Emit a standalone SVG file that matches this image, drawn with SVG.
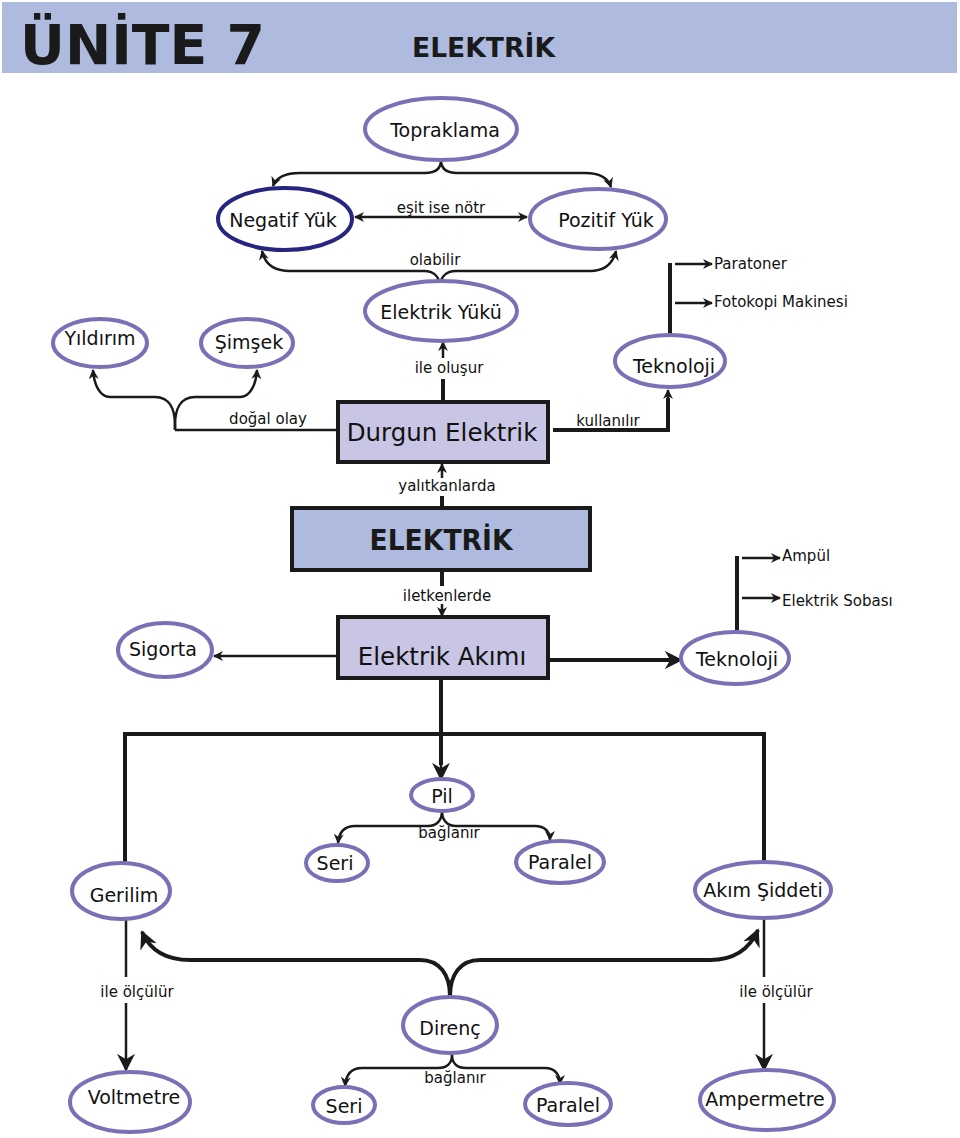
<svg xmlns="http://www.w3.org/2000/svg" width="960" height="1138" viewBox="0 0 960 1138">
<style>
.nd{fill:#fff;stroke:#7a70b5;stroke-width:4}
.nd2{fill:#fff;stroke:#262680;stroke-width:4}
.bx{fill:#c8c6e4;stroke:#1a1a1a;stroke-width:4}
.bx2{fill:#aebbdf;stroke:#1a1a1a;stroke-width:4}
.t{font-family:"DejaVu Sans",Arial,sans-serif;font-size:19px;fill:#111;text-anchor:middle}
.tb{font-family:"DejaVu Sans",Arial,sans-serif;font-size:24.5px;fill:#111;text-anchor:middle}
.lb{font-family:"DejaVu Sans",Arial,sans-serif;font-size:15px;fill:#111;text-anchor:middle}
.ls{font-family:"DejaVu Sans",Arial,sans-serif;font-size:15px;fill:#111}
.c{fill:none;stroke:#1a1a1a;stroke-width:2.5}
.ct{fill:none;stroke:#1a1a1a;stroke-width:4}
</style>
<defs>
<marker id="a" viewBox="0 0 10 10" refX="9" refY="5" markerWidth="10" markerHeight="10" markerUnits="userSpaceOnUse" orient="auto-start-reverse">
<path d="M0,0 L10,5 L0,10 L3,5 z" fill="#1a1a1a"/>
</marker>
<marker id="b" viewBox="0 0 10 10" refX="9" refY="5" markerWidth="18" markerHeight="18" markerUnits="userSpaceOnUse" orient="auto">
<path d="M0,0 L10,5 L0,10 L3,5 z" fill="#1a1a1a"/>
</marker>
</defs>
<rect x="2" y="2" width="955" height="71" fill="#aebbdf"/>
<text x="20" y="64" font-family="DejaVu Sans,Arial,sans-serif" font-size="56" font-weight="bold" fill="#1a1a1a" textLength="245" lengthAdjust="spacingAndGlyphs">ÜNİTE 7</text>
<text x="412" y="57" font-family="DejaVu Sans,Arial,sans-serif" font-size="26" font-weight="bold" fill="#1a1a1a" textLength="143" lengthAdjust="spacingAndGlyphs">ELEKTRİK</text>

<g id="connectors">
<path class="c" d="M441,160 C441,168 436,173 425,173 L300,173 C285,173 276,178 273,186" marker-end="url(#a)"/>
<path class="c" d="M441,160 C441,168 446,173 457,173 L585,173 C600,173 608,178 611,187" marker-end="url(#a)"/>
<line class="c" x1="355" y1="217" x2="527" y2="217" marker-start="url(#a)" marker-end="url(#a)"/>
<path class="c" d="M440,288 C440,278 435,271 424,271 L290,271 C275,271 265,265 262,251" marker-end="url(#a)"/>
<path class="c" d="M440,288 C440,278 445,271 456,271 L590,271 C605,271 613,263 616,251" marker-end="url(#a)"/>
<line class="ct" x1="443" y1="402" x2="443" y2="379"/>
<line class="c" x1="443" y1="358" x2="443" y2="342" marker-end="url(#a)"/>
<path class="c" d="M175,430 L175,425 C175,410 170,397 155,397 L110,397 C100,397 94,385 93,370" marker-end="url(#a)"/>
<path class="c" d="M175,430 L175,425 C175,410 180,397 195,397 L240,397 C250,397 256,385 257,370" marker-end="url(#a)"/>
<line class="c" x1="175" y1="430" x2="338" y2="430"/>
<polyline class="ct" points="553,430 668,430 668,398"/>
<line class="c" x1="668" y1="400" x2="668" y2="390" marker-end="url(#a)"/>
<line class="ct" x1="670" y1="334" x2="670" y2="263"/>
<line class="c" x1="675" y1="264" x2="712" y2="264" marker-end="url(#a)"/>
<line class="c" x1="675" y1="303" x2="712" y2="303" marker-end="url(#a)"/>
<line class="ct" x1="442" y1="508" x2="442" y2="496"/>
<line class="c" x1="442" y1="478" x2="442" y2="464" marker-end="url(#a)"/>
<line class="ct" x1="442" y1="572" x2="442" y2="586"/>
<line class="c" x1="442" y1="604" x2="442" y2="616" marker-end="url(#a)"/>
<line class="c" x1="338" y1="656" x2="214" y2="656" marker-end="url(#a)"/>
<line class="ct" x1="548" y1="660" x2="670" y2="660"/>
<line class="c" x1="665" y1="660" x2="681" y2="660" marker-end="url(#b)"/>
<line class="ct" x1="737" y1="630" x2="737" y2="556"/>
<line class="c" x1="742" y1="558" x2="780" y2="558" marker-end="url(#a)"/>
<line class="c" x1="742" y1="598" x2="780" y2="598" marker-end="url(#a)"/>
<line class="ct" x1="441" y1="680" x2="441" y2="765"/>
<line class="c" x1="441" y1="760" x2="441" y2="779" marker-end="url(#b)"/>
<polyline class="ct" points="125,863 125,734 764,734 764,863"/>
<path class="c" d="M442,811 C442,820 437,826 428,826 L355,826 C345,826 339,832 338,843" marker-end="url(#a)"/>
<path class="c" d="M442,811 C442,820 447,826 456,826 L535,826 C545,826 550,832 550,840" marker-end="url(#a)"/>
<path class="ct" d="M450,996 C450,975 440,960 420,960 L190,960 C165,960 150,950 142,932" marker-end="url(#b)"/>
<path class="ct" d="M450,996 C450,975 460,960 480,960 L710,960 C735,960 750,948 758,930" marker-end="url(#b)"/>
<line class="c" x1="126" y1="920" x2="126" y2="977"/>
<line class="c" x1="126" y1="1003" x2="126" y2="1070" marker-end="url(#b)"/>
<line class="c" x1="764" y1="918" x2="764" y2="977"/>
<line class="c" x1="764" y1="1003" x2="764" y2="1070" marker-end="url(#b)"/>
<path class="c" d="M452,1055 C452,1063 447,1068 438,1068 L362,1068 C352,1068 346,1074 345,1086" marker-end="url(#a)"/>
<path class="c" d="M452,1055 C452,1063 457,1068 466,1068 L545,1068 C555,1068 560,1075 560,1084" marker-end="url(#a)"/>
</g>

<g id="labels">
<text class="lb" x="441" y="213">eşit ise nötr</text>
<text class="lb" x="435" y="265">olabilir</text>
<text class="lb" x="449" y="373">ile oluşur</text>
<text class="lb" x="268" y="424">doğal olay</text>
<text class="lb" x="608" y="426">kullanılır</text>
<text class="ls" x="714" y="269">Paratoner</text>
<text class="ls" x="714" y="307">Fotokopi Makinesi</text>
<text class="lb" x="447" y="491">yalıtkanlarda</text>
<text class="lb" x="447" y="601">iletkenlerde</text>
<text class="ls" x="782" y="561">Ampül</text>
<text class="ls" x="782" y="606">Elektrik Sobası</text>
<text class="lb" x="449" y="838">bağlanır</text>
<text class="lb" x="137" y="997">ile ölçülür</text>
<text class="lb" x="776" y="997">ile ölçülür</text>
<text class="lb" x="455" y="1083">bağlanır</text>
</g>

<g id="topraklama"><ellipse class="nd" cx="441" cy="129" rx="76" ry="31"/><text class="t" x="445" y="137">Topraklama</text></g>
<g id="negatif"><ellipse class="nd2" cx="285" cy="219" rx="67" ry="31"/><text class="t" x="283" y="227">Negatif Yük</text></g>
<g id="pozitif"><ellipse class="nd" cx="598" cy="219" rx="68" ry="30"/><text class="t" x="606" y="227">Pozitif Yük</text></g>
<g id="elektrikyuku"><ellipse class="nd" cx="441" cy="311" rx="76" ry="30"/><text class="t" x="441" y="319">Elektrik Yükü</text></g>
<g id="yildirim"><ellipse class="nd" cx="100" cy="343" rx="47" ry="24"/><text class="t" x="100" y="345">Yıldırım</text></g>
<g id="simsek"><ellipse class="nd" cx="247" cy="343" rx="46" ry="24"/><text class="t" x="249" y="349">Şimşek</text></g>
<g id="teknoloji1"><ellipse class="nd" cx="670" cy="361" rx="55" ry="26"/><text class="t" x="674" y="373">Teknoloji</text></g>
<g id="durgun"><rect class="bx" x="338" y="402" width="210" height="60"/><text class="tb" x="442" y="441">Durgun Elektrik</text></g>
<g id="elektrik"><rect class="bx2" x="292" y="508" width="298" height="62"/><text x="441" y="550" font-family="DejaVu Sans,Arial,sans-serif" font-size="29" font-weight="bold" fill="#1a1a1a" text-anchor="middle" textLength="143" lengthAdjust="spacingAndGlyphs">ELEKTRİK</text></g>
<g id="akim"><rect class="bx" x="338" y="617" width="210" height="61"/><text class="tb" x="442" y="665">Elektrik Akımı</text></g>
<g id="sigorta"><ellipse class="nd" cx="165" cy="650" rx="47" ry="27"/><text class="t" x="163" y="656">Sigorta</text></g>
<g id="teknoloji2"><ellipse class="nd" cx="735" cy="658" rx="54" ry="26"/><text class="t" x="737" y="666">Teknoloji</text></g>
<g id="pil"><ellipse class="nd" cx="442" cy="795" rx="31" ry="16"/><text class="t" x="442" y="803">Pil</text></g>
<g id="seri1"><ellipse class="nd" cx="337" cy="863" rx="31" ry="18"/><text class="t" x="335" y="870">Seri</text></g>
<g id="paralel1"><ellipse class="nd" cx="560" cy="862" rx="44" ry="21"/><text class="t" x="560" y="869">Paralel</text></g>
<g id="gerilim"><ellipse class="nd" cx="121" cy="891" rx="49" ry="28"/><text class="t" x="124" y="902">Gerilim</text></g>
<g id="akimsiddeti"><ellipse class="nd" cx="763" cy="890" rx="68" ry="28"/><text class="t" x="763" y="897">Akım Şiddeti</text></g>
<g id="direnc"><ellipse class="nd" cx="450" cy="1025" rx="47" ry="28"/><text class="t" x="450" y="1035">Direnç</text></g>
<g id="voltmetre"><ellipse class="nd" cx="130" cy="1102" rx="60" ry="30"/><text class="t" x="134" y="1104">Voltmetre</text></g>
<g id="seri2"><ellipse class="nd" cx="344" cy="1105" rx="31" ry="18"/><text class="t" x="344" y="1113">Seri</text></g>
<g id="paralel2"><ellipse class="nd" cx="568" cy="1104" rx="43" ry="21"/><text class="t" x="568" y="1112">Paralel</text></g>
<g id="ampermetre"><ellipse class="nd" cx="767" cy="1100" rx="67" ry="30"/><text class="t" x="765" y="1106">Ampermetre</text></g>
</svg>
